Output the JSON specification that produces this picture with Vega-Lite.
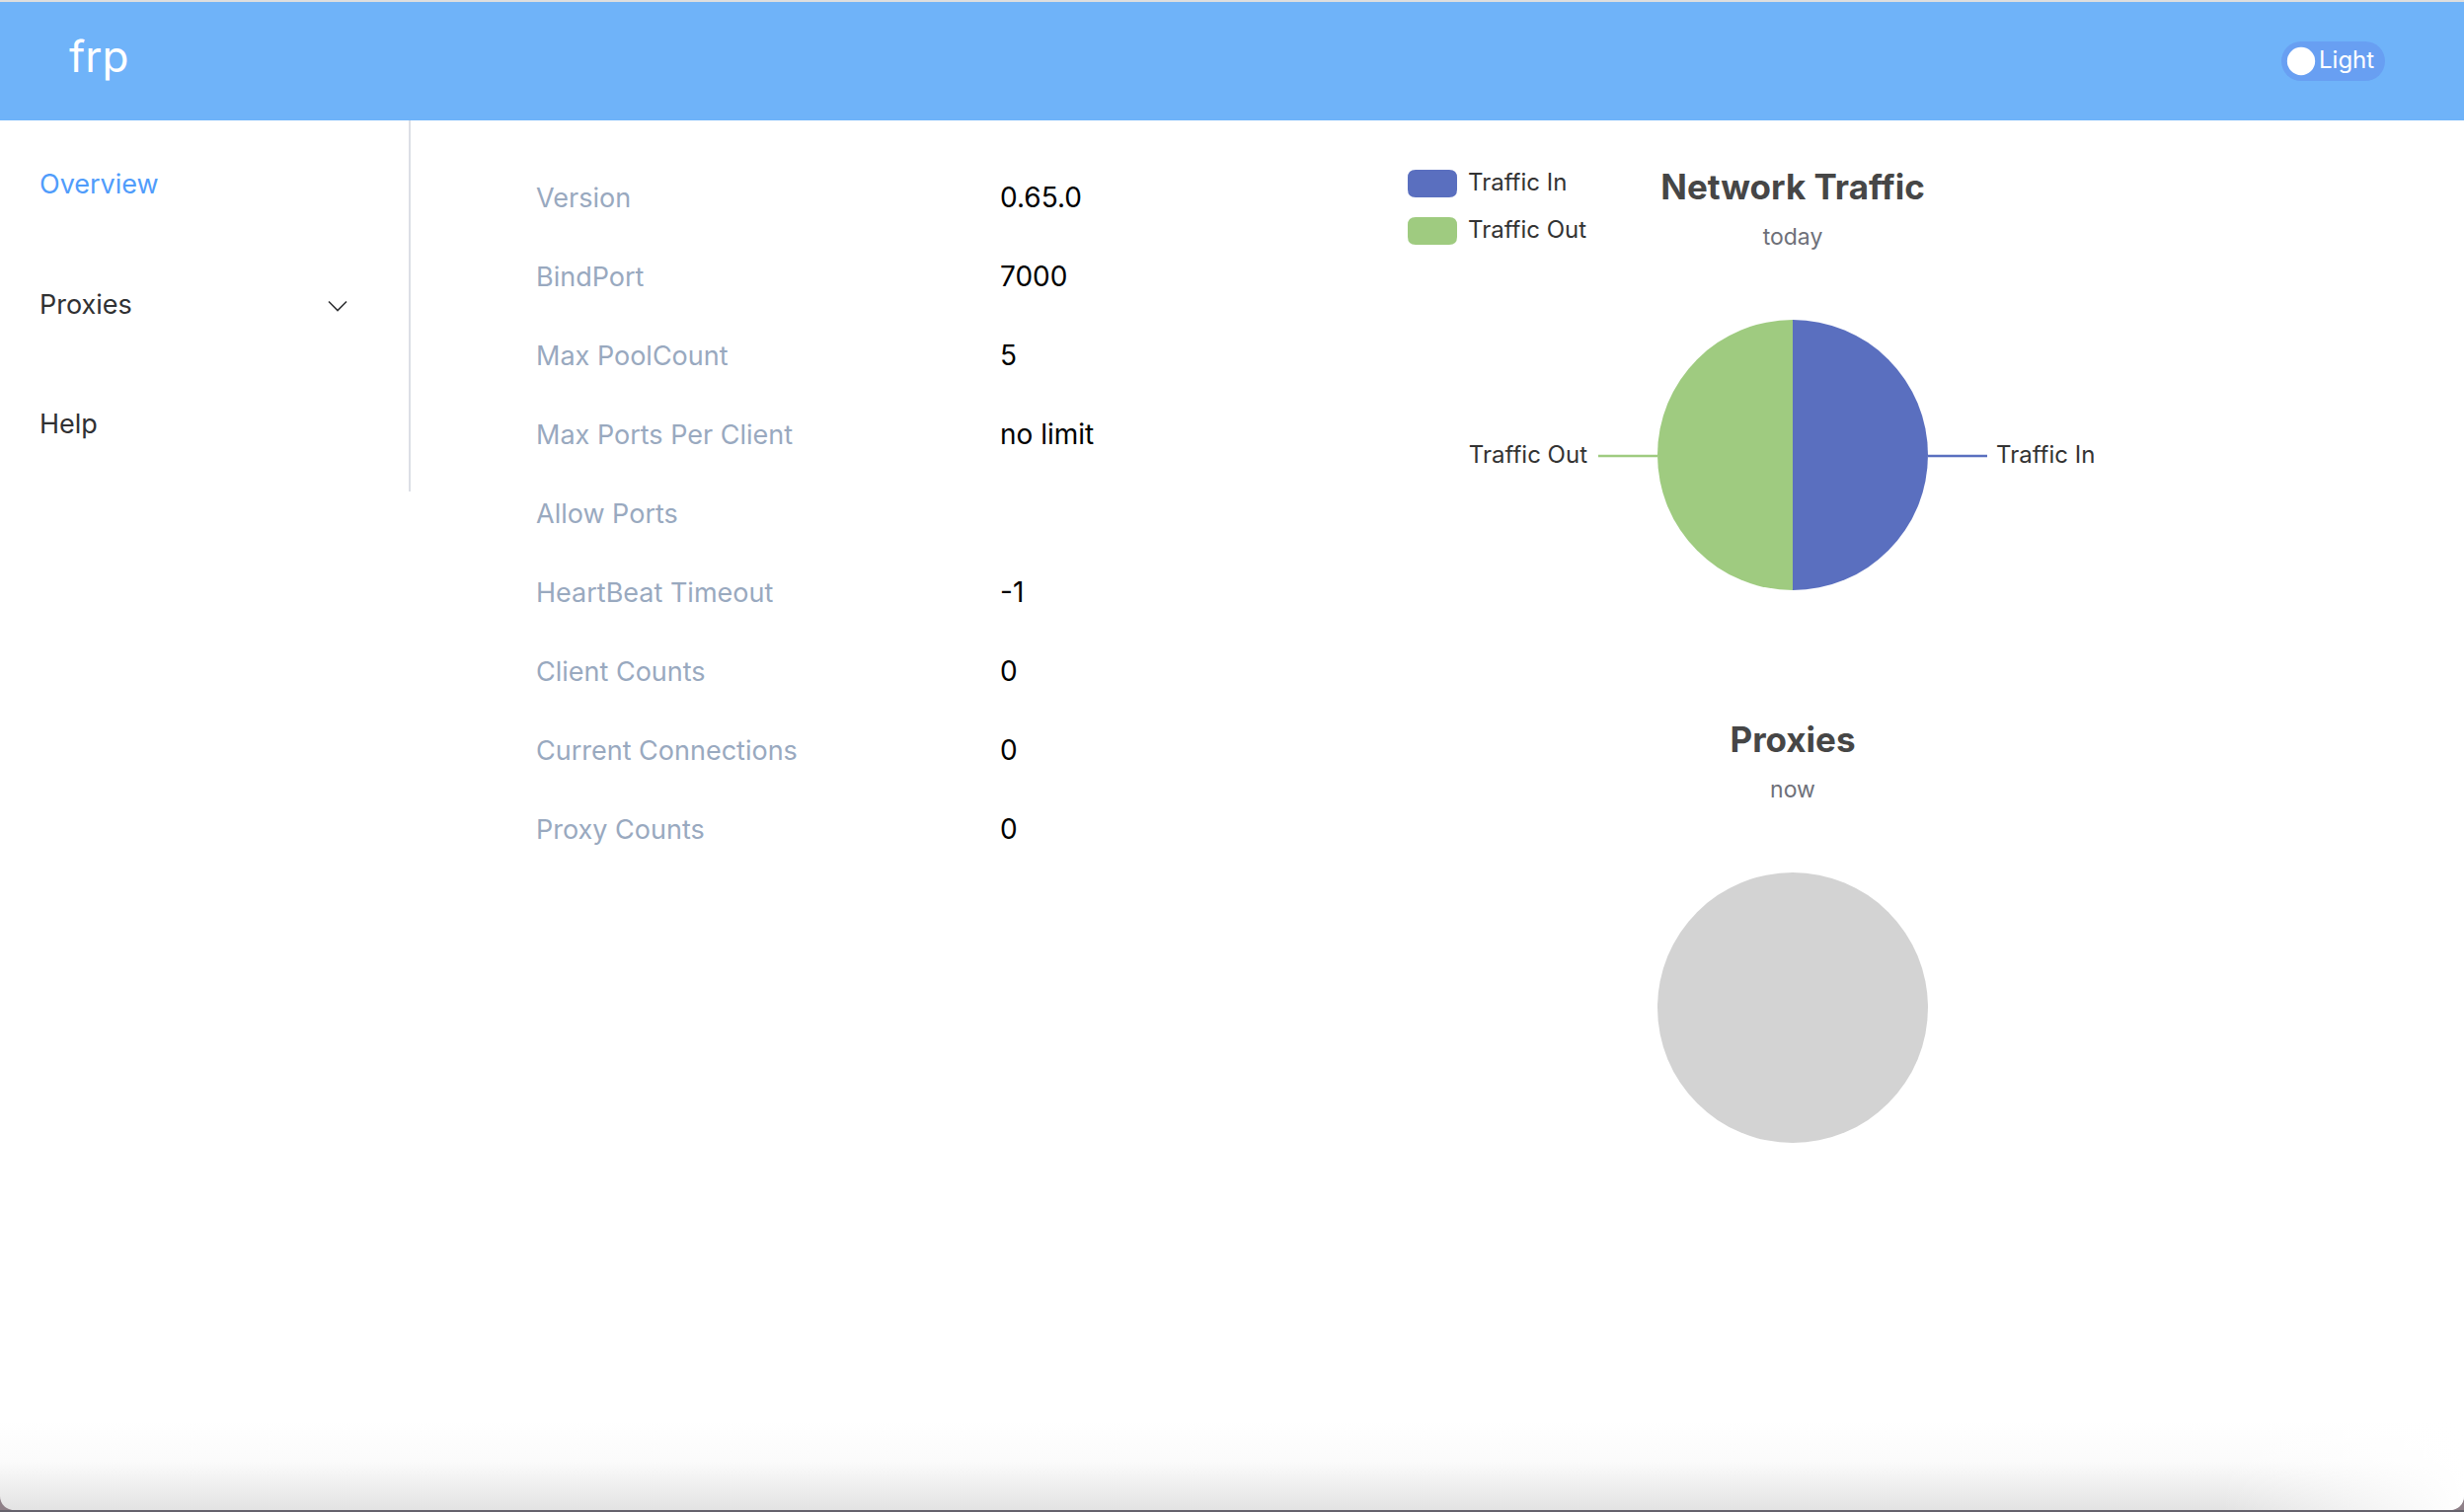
{
  "$schema": "https://vega.github.io/schema/vega-lite/v6.json",
  "background": "#ffffff",
  "padding": 0,
  "autosize": "none",
  "width": 2496,
  "height": 1532,
  "config": {
    "view": {"stroke": null},
    "font": "Inter",
    "text": {"font": "Inter"}
  },
  "datasets": {
    "status": [
      {"name": "Version", "value": "0.65.0"},
      {"name": "BindPort", "value": "7000"},
      {"name": "Max PoolCount", "value": "5"},
      {"name": "Max Ports Per Client", "value": "no limit"},
      {"name": "Allow Ports", "value": ""},
      {"name": "HeartBeat Timeout", "value": "-1"},
      {"name": "Client Counts", "value": "0"},
      {"name": "Current Connections", "value": "0"},
      {"name": "Proxy Counts", "value": "0"}
    ],
    "traffic": [
      {"series": "Traffic In", "value": 1},
      {"series": "Traffic Out", "value": 1}
    ],
    "proxies": [
      {"state": "no proxies", "value": 2}
    ],
    "menu": [
      {"item": "Overview"},
      {"item": "Proxies"},
      {"item": "Help"}
    ]
  },
  "resolve": {"scale": {"x": "independent", "y": "independent"}},
  "layer": [
    {
      "data": {"values": [{"part": "window top"}]},
      "mark": {"type": "rect", "color": "#dedede"},
      "encoding": {
        "y": {"datum": "top", "type": "nominal", "axis": null, "scale": {"domain": ["top", "bottom"], "type": "point", "padding": 0, "range": [0, 2]}},
        "y2": {"datum": "bottom"}
      }
    },
    {
      "data": {"values": [{"part": "header"}]},
      "mark": {"type": "rect", "color": "#6fb3f9"},
      "encoding": {
        "y": {"datum": "top", "type": "nominal", "axis": null, "scale": {"domain": ["top", "bottom"], "type": "point", "padding": 0, "range": [2, 122]}},
        "y2": {"datum": "bottom"}
      }
    },
    {
      "data": {"values": [{"brand": "frp"}]},
      "mark": {"type": "text", "align": "left", "baseline": "middle", "fontSize": 44, "color": "#ffffff"},
      "encoding": {
        "x": {"field": "brand", "type": "nominal", "axis": null, "scale": {"range": [70, 70]}},
        "y": {"field": "brand", "type": "nominal", "axis": null, "scale": {"range": [60, 60]}},
        "text": {"field": "brand"}
      }
    },
    {
      "data": {"values": [{"end": "left"}, {"end": "right"}]},
      "mark": {"type": "line", "strokeWidth": 40, "strokeCap": "round", "color": "#689ff2"},
      "encoding": {
        "x": {"field": "end", "type": "nominal", "axis": null, "sort": null, "scale": {"type": "point", "padding": 0, "range": [2331, 2396]}},
        "y": {"datum": "toggle", "type": "nominal", "axis": null, "scale": {"range": [62, 62]}}
      }
    },
    {
      "data": {"values": [{"end": "left"}]},
      "mark": {"type": "circle", "size": 804, "color": "#ffffff", "opacity": 1},
      "encoding": {
        "x": {"field": "end", "type": "nominal", "axis": null, "scale": {"range": [2331, 2331]}},
        "y": {"datum": "toggle", "type": "nominal", "axis": null, "scale": {"range": [62, 62]}}
      }
    },
    {
      "data": {"values": [{"theme": "Light"}]},
      "mark": {"type": "text", "align": "left", "baseline": "middle", "fontSize": 24, "color": "#ffffff"},
      "encoding": {
        "x": {"field": "theme", "type": "nominal", "axis": null, "scale": {"range": [2349, 2349]}},
        "y": {"field": "theme", "type": "nominal", "axis": null, "scale": {"range": [62, 62]}},
        "text": {"field": "theme"}
      }
    },
    {
      "data": {"name": "menu"},
      "mark": {"type": "text", "align": "left", "baseline": "middle", "fontSize": 27},
      "encoding": {
        "x": {"datum": "item", "type": "nominal", "axis": null, "scale": {"range": [40, 40]}},
        "y": {"field": "item", "type": "nominal", "axis": null, "sort": null, "scale": {"type": "point", "padding": 0, "range": [188, 431]}},
        "text": {"field": "item"},
        "color": {"condition": {"test": "datum.item === 'Overview'", "value": "#509cfb"}, "value": "#303133"}
      }
    },
    {
      "data": {"values": [{"item": "Proxies"}]},
      "mark": {"type": "point", "shape": "M-1,-0.5L0,0.5L1,-0.5", "size": 324, "filled": false, "strokeWidth": 1.6, "color": "#303133", "opacity": 1},
      "encoding": {
        "x": {"datum": "caret", "type": "nominal", "axis": null, "scale": {"range": [342, 342]}},
        "y": {"field": "item", "type": "nominal", "axis": null, "scale": {"range": [310, 310]}}
      }
    },
    {
      "data": {"values": [{"part": "menu border"}]},
      "mark": {"type": "rule", "strokeWidth": 2, "color": "#dcdfe6"},
      "encoding": {
        "x": {"field": "part", "type": "nominal", "axis": null, "scale": {"range": [415, 415]}},
        "y": {"datum": "top", "type": "nominal", "axis": null, "scale": {"domain": ["top", "bottom"], "type": "point", "padding": 0, "range": [122, 498]}},
        "y2": {"datum": "bottom"}
      }
    },
    {
      "data": {"name": "status"},
      "mark": {"type": "text", "align": "left", "baseline": "middle", "fontSize": 27, "color": "#99a9bf"},
      "encoding": {
        "x": {"datum": "name", "type": "nominal", "axis": null, "scale": {"range": [543, 543]}},
        "y": {"field": "name", "type": "nominal", "axis": null, "sort": null, "scale": {"type": "point", "padding": 0, "range": [202, 842]}},
        "text": {"field": "name"}
      }
    },
    {
      "data": {"name": "status"},
      "mark": {"type": "text", "align": "left", "baseline": "middle", "fontSize": 28, "color": "#000000"},
      "encoding": {
        "x": {"datum": "value", "type": "nominal", "axis": null, "scale": {"range": [1013, 1013]}},
        "y": {"field": "name", "type": "nominal", "axis": null, "sort": null, "scale": {"type": "point", "padding": 0, "range": [202, 842]}},
        "text": {"field": "value"}
      }
    },
    {
      "data": {"name": "traffic"},
      "mark": {"type": "arc", "outerRadius": 137},
      "encoding": {
        "theta": {"field": "value", "type": "quantitative", "stack": true},
        "x": {"datum": "pie", "type": "nominal", "axis": null, "scale": {"range": [1816, 1816]}},
        "y": {"datum": "pie", "type": "nominal", "axis": null, "scale": {"range": [461, 461]}},
        "color": {
          "field": "series",
          "type": "nominal",
          "scale": {"domain": ["Traffic In", "Traffic Out"], "range": ["#5a6fbf", "#9fcb80"]},
          "legend": {
            "orient": "none",
            "legendX": 1426,
            "legendY": 161,
            "title": null,
            "padding": 0,
            "symbolType": "M-0.68,-0.56H0.68Q1,-0.56 1,-0.24V0.24Q1,0.56 0.68,0.56H-0.68Q-1,0.56 -1,0.24V-0.24Q-1,-0.56 -0.68,-0.56Z",
            "symbolSize": 2500,
            "symbolStrokeWidth": 0,
            "symbolOpacity": 1,
            "labelFontSize": 24,
            "labelColor": "#333333",
            "labelFont": "Inter",
            "labelOffset": 11,
            "rowPadding": 9
          }
        }
      }
    },
    {
      "data": {"values": [{"series": "Traffic In"}]},
      "mark": {"type": "rule", "strokeWidth": 2.5},
      "encoding": {
        "x": {"datum": "inner", "type": "nominal", "axis": null, "scale": {"domain": ["inner", "outer"], "type": "point", "padding": 0, "range": [1953, 2013]}},
        "x2": {"datum": "outer"},
        "y": {"field": "series", "type": "nominal", "axis": null, "scale": {"range": [462, 462]}},
        "color": {"field": "series", "type": "nominal", "legend": null}
      }
    },
    {
      "data": {"values": [{"series": "Traffic Out"}]},
      "mark": {"type": "rule", "strokeWidth": 2.5},
      "encoding": {
        "x": {"datum": "inner", "type": "nominal", "axis": null, "scale": {"domain": ["inner", "outer"], "type": "point", "padding": 0, "range": [1679, 1619]}},
        "x2": {"datum": "outer"},
        "y": {"field": "series", "type": "nominal", "axis": null, "scale": {"range": [462, 462]}},
        "color": {"field": "series", "type": "nominal", "legend": null}
      }
    },
    {
      "data": {"values": [{"series": "Traffic In"}]},
      "mark": {"type": "text", "align": "left", "baseline": "middle", "fontSize": 24, "color": "#333333"},
      "encoding": {
        "x": {"field": "series", "type": "nominal", "axis": null, "scale": {"range": [2022, 2022]}},
        "y": {"field": "series", "type": "nominal", "axis": null, "scale": {"range": [462, 462]}},
        "text": {"field": "series"}
      }
    },
    {
      "data": {"values": [{"series": "Traffic Out"}]},
      "mark": {"type": "text", "align": "right", "baseline": "middle", "fontSize": 24, "color": "#333333"},
      "encoding": {
        "x": {"field": "series", "type": "nominal", "axis": null, "scale": {"range": [1608, 1608]}},
        "y": {"field": "series", "type": "nominal", "axis": null, "scale": {"range": [462, 462]}},
        "text": {"field": "series"}
      }
    },
    {
      "data": {"values": [{"heading": "Network Traffic"}]},
      "mark": {"type": "text", "align": "center", "baseline": "alphabetic", "fontSize": 35, "fontWeight": "bold", "color": "#464646"},
      "encoding": {
        "x": {"field": "heading", "type": "nominal", "axis": null, "scale": {"range": [1816, 1816]}},
        "y": {"field": "heading", "type": "nominal", "axis": null, "scale": {"range": [202, 202]}},
        "text": {"field": "heading"}
      }
    },
    {
      "data": {"values": [{"period": "today"}]},
      "mark": {"type": "text", "align": "center", "baseline": "alphabetic", "fontSize": 23, "color": "#6e7079"},
      "encoding": {
        "x": {"field": "period", "type": "nominal", "axis": null, "scale": {"range": [1816, 1816]}},
        "y": {"field": "period", "type": "nominal", "axis": null, "scale": {"range": [248, 248]}},
        "text": {"field": "period"}
      }
    },
    {
      "data": {"name": "proxies"},
      "mark": {"type": "arc", "outerRadius": 137, "color": "#d3d3d3"},
      "encoding": {
        "theta": {"field": "value", "type": "quantitative", "stack": true},
        "x": {"datum": "pie", "type": "nominal", "axis": null, "scale": {"range": [1816, 1816]}},
        "y": {"datum": "pie", "type": "nominal", "axis": null, "scale": {"range": [1021, 1021]}}
      }
    },
    {
      "data": {"values": [{"heading": "Proxies"}]},
      "mark": {"type": "text", "align": "center", "baseline": "alphabetic", "fontSize": 35, "fontWeight": "bold", "color": "#464646"},
      "encoding": {
        "x": {"field": "heading", "type": "nominal", "axis": null, "scale": {"range": [1816, 1816]}},
        "y": {"field": "heading", "type": "nominal", "axis": null, "scale": {"range": [762, 762]}},
        "text": {"field": "heading"}
      }
    },
    {
      "data": {"values": [{"period": "now"}]},
      "mark": {"type": "text", "align": "center", "baseline": "alphabetic", "fontSize": 23, "color": "#6e7079"},
      "encoding": {
        "x": {"field": "period", "type": "nominal", "axis": null, "scale": {"range": [1816, 1816]}},
        "y": {"field": "period", "type": "nominal", "axis": null, "scale": {"range": [808, 808]}},
        "text": {"field": "period"}
      }
    },
    {
      "data": {"values": [{"part": "corners"}]},
      "mark": {"type": "rect", "color": "#8f8088"},
      "encoding": {
        "y": {"datum": "top", "type": "nominal", "axis": null, "scale": {"domain": ["top", "bottom"], "type": "point", "padding": 0, "range": [1500, 1530]}},
        "y2": {"datum": "bottom"}
      }
    },
    {
      "data": {"values": [{"part": "shadow"}]},
      "mark": {
        "type": "rect",
        "cornerRadiusBottomLeft": 14,
        "cornerRadiusBottomRight": 14,
        "color": {
          "gradient": "linear",
          "x1": 0,
          "y1": 0,
          "x2": 0,
          "y2": 1,
          "stops": [
            {"offset": 0, "color": "#ffffff"},
            {"offset": 0.45, "color": "#fbfbfb"},
            {"offset": 1, "color": "#e3e3e3"}
          ]
        }
      },
      "encoding": {
        "y": {"datum": "top", "type": "nominal", "axis": null, "scale": {"domain": ["top", "bottom"], "type": "point", "padding": 0, "range": [1440, 1530]}},
        "y2": {"datum": "bottom"}
      }
    },
    {
      "data": {"values": [{"part": "shadow fade"}]},
      "mark": {
        "type": "rect",
        "cornerRadiusBottomRight": 14,
        "color": {
          "gradient": "linear",
          "x1": 0,
          "y1": 0,
          "x2": 1,
          "y2": 0,
          "stops": [
            {"offset": 0, "color": "rgba(255,255,255,0)"},
            {"offset": 1, "color": "rgba(255,255,255,1)"}
          ]
        }
      },
      "encoding": {
        "x": {"datum": "from", "type": "nominal", "axis": null, "scale": {"domain": ["from", "to"], "type": "point", "padding": 0, "range": [2250, 2496]}},
        "x2": {"datum": "to"},
        "y": {"datum": "top", "type": "nominal", "axis": null, "scale": {"domain": ["top", "bottom"], "type": "point", "padding": 0, "range": [1440, 1530]}},
        "y2": {"datum": "bottom"}
      }
    },
    {
      "data": {"values": [{"part": "window bottom"}]},
      "mark": {"type": "rect", "color": "#65626c"},
      "encoding": {
        "y": {"datum": "top", "type": "nominal", "axis": null, "scale": {"domain": ["top", "bottom"], "type": "point", "padding": 0, "range": [1530, 1532]}},
        "y2": {"datum": "bottom"}
      }
    }
  ]
}
